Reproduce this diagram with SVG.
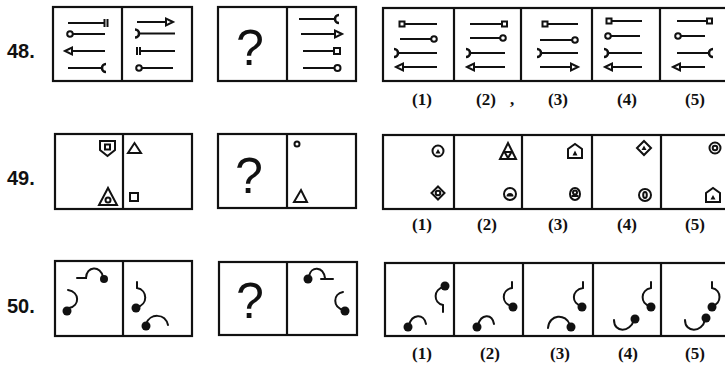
<svg xmlns="http://www.w3.org/2000/svg" width="725" height="366" viewBox="0 0 725 366">
<style>
.bx{fill:none;stroke:#111;stroke-width:2.2}
.dv{stroke:#111;stroke-width:2.2}
.l{stroke:#111;stroke-width:2;fill:none}
.o{fill:#fff;stroke:#111;stroke-width:2}
.c{fill:none;stroke:#111;stroke-width:2.6}
.s{fill:none;stroke:#111;stroke-width:2}
.h{fill:none;stroke:#111;stroke-width:2;stroke-linecap:round}
.d{fill:#111}
.num{font-family:"Liberation Sans",Arial,sans-serif;font-weight:bold;font-size:20px;fill:#111}
.q{font-family:"Liberation Sans",Arial,sans-serif;font-size:50px;fill:#111;text-anchor:middle}
.lab{font-family:"Liberation Serif","Times New Roman",serif;font-weight:bold;font-size:17px;fill:#111;text-anchor:middle}
</style>
<rect width="725" height="366" fill="#fff"/>

<!-- Row 48 -->
<g id="row48">
<text class="num" x="7" y="58">48.</text>
<g id="r48-pair">
<rect class="bx" x="53" y="7" width="139" height="74"/>
<line class="dv" x1="122" y1="7" x2="122" y2="81"/>
<line class="l" x1="68" y1="23" x2="104" y2="23"/>
<line class="s" x1="104.5" y1="19" x2="104.5" y2="27"/><line class="s" x1="107.5" y1="19" x2="107.5" y2="27"/>
<line class="l" x1="73" y1="34" x2="105" y2="34"/><circle class="o" cx="70" cy="34" r="2.8"/>
<line class="l" x1="72" y1="51" x2="105" y2="51"/><polygon class="o" points="65,51 72,47.5 72,54.5"/>
<line class="l" x1="68" y1="68" x2="102" y2="68"/><path class="c" d="M106,64 A4 4 0 0 0 106,72"/>
<line class="l" x1="137" y1="22" x2="166" y2="22"/><polygon class="o" points="173,22 166,18.5 166,25.5"/>
<path class="c" d="M135,29.5 A4 4 0 0 1 135,37.5"/><line class="l" x1="139" y1="33.5" x2="175" y2="33.5"/>
<line class="s" x1="137" y1="47" x2="137" y2="55"/><line class="s" x1="140" y1="47" x2="140" y2="55"/>
<line class="l" x1="140" y1="51" x2="175" y2="51"/>
<line class="l" x1="142" y1="68" x2="173" y2="68"/><circle class="o" cx="139" cy="68" r="2.8"/>
</g>
<g id="r48-question">
<rect class="bx" x="218" y="7" width="138" height="74"/>
<line class="dv" x1="287" y1="7" x2="287" y2="81"/>
<text class="q" x="250" y="65">?</text>
<line class="l" x1="299" y1="19" x2="335" y2="19"/><path class="c" d="M339,15 A4 4 0 0 0 339,23"/>
<line class="l" x1="301" y1="34" x2="335" y2="34"/><polygon class="o" points="342,34 335,30.5 335,37.5"/>
<line class="l" x1="303" y1="51" x2="334" y2="51"/><rect class="o" x="334" y="48" width="6" height="6"/>
<line class="l" x1="303" y1="68" x2="334" y2="68"/><circle class="o" cx="337.5" cy="68" r="3"/>
</g>
<g id="r48-options">
<rect class="bx" x="383" y="8" width="350" height="73"/>
<line class="dv" x1="454" y1="8" x2="454" y2="81"/><line class="dv" x1="521" y1="8" x2="521" y2="81"/>
<line class="dv" x1="592" y1="8" x2="592" y2="81"/><line class="dv" x1="660" y1="8" x2="660" y2="81"/>
<!-- opt1 -->
<line class="l" x1="405" y1="24" x2="437" y2="24"/><rect class="o" x="399.5" y="21.5" width="5" height="5"/>
<line class="l" x1="400" y1="39" x2="431" y2="39"/><circle class="o" cx="434" cy="39" r="2.8"/>
<path class="c" d="M394,49 A4 4 0 0 1 394,57"/><line class="l" x1="398" y1="53" x2="437" y2="53"/>
<line class="l" x1="403" y1="67" x2="437" y2="67"/><polygon class="o" points="396,67 403,63.5 403,70.5"/>
<!-- opt2 -->
<line class="l" x1="470" y1="24" x2="502" y2="24"/><rect class="o" x="502" y="21.5" width="5" height="5"/>
<line class="l" x1="470" y1="38" x2="500" y2="38"/><circle class="o" cx="503" cy="38" r="2.8"/>
<path class="c" d="M466,49 A4 4 0 0 1 466,57"/><line class="l" x1="470" y1="53" x2="505" y2="53"/>
<line class="l" x1="474" y1="67" x2="505" y2="67"/><polygon class="o" points="467,67 474,63.5 474,70.5"/>
<!-- opt3 -->
<line class="l" x1="548" y1="24" x2="578" y2="24"/><rect class="o" x="542.5" y="21.5" width="5" height="5"/>
<line class="l" x1="540" y1="40" x2="572" y2="40"/><circle class="o" cx="575" cy="40" r="2.8"/>
<path class="c" d="M537,49 A4 4 0 0 1 537,57"/><line class="l" x1="541" y1="53" x2="578" y2="53"/>
<line class="l" x1="540" y1="67" x2="571" y2="67"/><polygon class="o" points="578,67 571,63.5 571,70.5"/>
<!-- opt4 -->
<line class="l" x1="612" y1="21" x2="642" y2="21"/><rect class="o" x="606.5" y="18.5" width="5" height="5"/>
<line class="l" x1="611" y1="36" x2="640" y2="36"/><circle class="o" cx="608" cy="36" r="2.8"/>
<path class="c" d="M604,49 A4 4 0 0 1 604,57"/><line class="l" x1="608" y1="53" x2="642" y2="53"/>
<line class="l" x1="612" y1="67" x2="642" y2="67"/><polygon class="o" points="605,67 612,63.5 612,70.5"/>
<!-- opt5 -->
<line class="l" x1="677" y1="21" x2="707" y2="21"/><rect class="o" x="707" y="18.5" width="5" height="5"/>
<line class="l" x1="681" y1="36" x2="705" y2="36"/><circle class="o" cx="678" cy="36" r="2.8"/>
<line class="l" x1="677" y1="53" x2="709" y2="53"/><path class="c" d="M713,49 A4 4 0 0 0 713,57"/>
<line class="l" x1="680" y1="67" x2="705" y2="67"/><polygon class="o" points="673,67 680,63.5 680,70.5"/>
<text class="lab" x="422" y="105">(1)</text><text class="lab" x="486" y="105">(2)</text>
<text class="lab" x="512" y="105">,</text>
<text class="lab" x="558" y="105">(3)</text><text class="lab" x="627" y="105">(4)</text><text class="lab" x="695" y="105">(5)</text>
</g>
</g>

<!-- Row 49 -->
<g id="row49">
<text class="num" x="7" y="185">49.</text>
<g id="r49-pair">
<rect class="bx" x="55" y="134" width="137" height="75"/>
<line class="dv" x1="123" y1="134" x2="123" y2="209"/>
<polygon class="s" points="100,141 115,141 115,150 107.5,156 100,150"/>
<rect class="s" x="105" y="144.5" width="5" height="5"/>
<polygon class="s" points="99,205 117,205 108,188"/>
<circle class="s" cx="108" cy="200" r="2.5"/>
<polygon class="s" points="128,153 141,153 134.5,143"/>
<rect class="s" x="130" y="193" width="8" height="8"/>
</g>
<g id="r49-question">
<rect class="bx" x="218" y="134" width="138" height="74"/>
<line class="dv" x1="287" y1="134" x2="287" y2="208"/>
<text class="q" x="249" y="193">?</text>
<circle class="s" cx="297" cy="144" r="2.5"/>
<polygon class="s" points="294,202 307,202 301,190"/>
</g>
<g id="r49-options">
<rect class="bx" x="383" y="135" width="350" height="74"/>
<line class="dv" x1="454" y1="135" x2="454" y2="209"/><line class="dv" x1="522" y1="135" x2="522" y2="209"/>
<line class="dv" x1="592" y1="135" x2="592" y2="209"/><line class="dv" x1="661" y1="135" x2="661" y2="209"/>
<!-- opt1 -->
<circle class="s" cx="438" cy="151" r="5.5"/><polygon class="d" points="435.5,153.5 440.5,153.5 438,149"/>
<polygon class="s" points="438,186.5 444.5,193 438,199.5 431.5,193"/><circle class="s" cx="438" cy="193" r="2.3"/>
<!-- opt2 -->
<polygon class="s" points="500,159 516,159 508,143"/><polygon class="s" points="504.5,152 511.5,152 508,158"/>
<circle class="s" cx="510" cy="194" r="6"/><path class="d" d="M506.5,196.5 A3.5 3.5 0 0 1 513.5,196.5 Z"/>
<!-- opt3 -->
<polygon class="s" points="568,158 582,158 582,149 575,144 568,149"/><polygon class="d" points="572.5,155.5 577.5,155.5 575,150.5"/>
<ellipse class="s" cx="575" cy="194" rx="5" ry="6"/><circle class="s" cx="575" cy="192.5" r="2"/><line class="l" x1="571.5" y1="196" x2="578.5" y2="196"/>
<!-- opt4 -->
<polygon class="s" points="644,141 651,148 644,155 637,148"/><polygon class="d" points="641.5,150 646.5,150 644,145.5"/>
<circle class="s" cx="645" cy="195" r="6"/><ellipse class="s" cx="645" cy="195" rx="1.8" ry="3"/>
<!-- opt5 -->
<circle class="s" cx="715" cy="148" r="5.5"/><circle class="s" cx="715" cy="148" r="2.3"/>
<polygon class="s" points="706,202 720,202 720,193 713,188 706,193"/><polygon class="d" points="710.5,199.5 715.5,199.5 713,195"/>
<text class="lab" x="422" y="230">(1)</text><text class="lab" x="487" y="230">(2)</text>
<text class="lab" x="558" y="230">(3)</text><text class="lab" x="627" y="230">(4)</text><text class="lab" x="695" y="230">(5)</text>
</g>
</g>

<!-- Row 50 -->
<g id="row50">
<text class="num" x="7" y="313">50.</text>
<g id="r50-pair">
<rect class="bx" x="55" y="261" width="137" height="75"/>
<line class="dv" x1="123" y1="261" x2="123" y2="336"/>
<path class="h" d="M77,278 L86,278 C86,266 101,265 103,277"/><circle class="d" cx="104" cy="279" r="4"/>
<path class="h" d="M68,290 C80,292 80,306 69,308"/><circle class="d" cx="67" cy="311" r="4.5"/>
<path class="h" d="M137,282 L137,288 C148,290 148,305 137,307"/><circle class="d" cx="136" cy="308" r="4.5"/>
<path class="h" d="M146,324 C150,313 165,313 168,325"/><circle class="d" cx="146" cy="326" r="4.5"/>
</g>
<g id="r50-question">
<rect class="bx" x="219" y="262" width="138" height="73"/>
<line class="dv" x1="287" y1="262" x2="287" y2="335"/>
<text class="q" x="250" y="318">?</text>
<path class="h" d="M309,276 C311,266 323,266 325,278 M321,279 L333,279"/><circle class="d" cx="308" cy="279" r="4.5"/>
<path class="h" d="M343,292 C333,294 332,307 344,310"/><circle class="d" cx="345" cy="311" r="4.5"/>
</g>
<g id="r50-options">
<rect class="bx" x="385" y="263" width="350" height="73"/>
<line class="dv" x1="454" y1="263" x2="454" y2="336"/><line class="dv" x1="523" y1="263" x2="523" y2="336"/>
<line class="dv" x1="593" y1="263" x2="593" y2="336"/><line class="dv" x1="661" y1="263" x2="661" y2="336"/>
<!-- opt1 -->
<path class="h" d="M444,287 C433,289 433,303 443,305 L443,312"/><circle class="d" cx="445" cy="286" r="4.5"/>
<path class="h" d="M409,325 C412,314 424,313 426,324"/><circle class="d" cx="408" cy="327" r="4.5"/>
<!-- opt2 -->
<path class="h" d="M512,282 L512,288 C501,290 501,304 512,306"/><circle class="d" cx="513" cy="307" r="4.5"/>
<path class="h" d="M478,325 C481,314 492,313 494,324"/><circle class="d" cx="477" cy="327" r="4.5"/>
<!-- opt3 -->
<path class="h" d="M583,282 L583,288 C571,290 571,304 582,306"/><circle class="d" cx="582" cy="307" r="4.5"/>
<path class="h" d="M548,328 C549,314 566,313 570,325"/><circle class="d" cx="571" cy="327" r="4.5"/>
<!-- opt4 -->
<path class="h" d="M651,282 L651,288 C640,290 640,304 650,306"/><circle class="d" cx="651" cy="307" r="4.5"/>
<path class="h" d="M614,320 C614,333 630,333 634,320"/><circle class="d" cx="635" cy="319" r="4.5"/>
<!-- opt5 -->
<path class="h" d="M712,282 L712,288 C722,290 722,304 712,306"/><circle class="d" cx="712" cy="307" r="4.5"/>
<path class="h" d="M685,320 C685,333 702,333 705,320"/><circle class="d" cx="706" cy="318" r="4.5"/>
<text class="lab" x="422" y="359">(1)</text><text class="lab" x="490" y="359">(2)</text>
<text class="lab" x="560" y="359">(3)</text><text class="lab" x="628" y="359">(4)</text><text class="lab" x="695" y="359">(5)</text>
</g>
</g>
<g id="connectors"/>
</svg>
